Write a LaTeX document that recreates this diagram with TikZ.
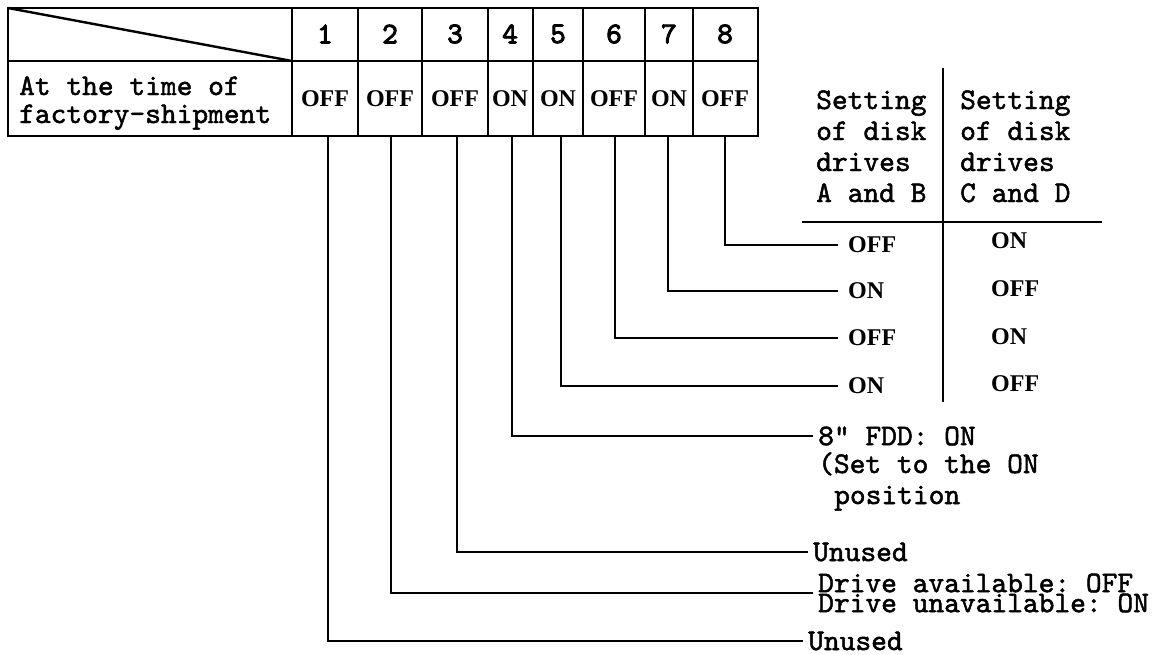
\documentclass[tikz,border=0pt]{standalone}
\usepackage{fontspec}
\setmainfont{Liberation Serif}
\setmonofont{lmmono10-regular.otf}[FakeBold=1.6]
\newfontfamily\digitfont{lmmono10-regular.otf}[FakeBold=3]
\usetikzlibrary{positioning}

\begin{document}
\begin{tikzpicture}[x=1pt, y=-1pt, line width=2.4pt,
    txt/.style={font=\ttfamily\fontsize{30}{31}\selectfont, inner sep=0pt, align=left},
    num/.style={font=\digitfont\fontsize{30}{31}\selectfont, inner sep=0pt},
    val/.style={font=\bfseries\fontsize{24}{28}\selectfont, inner sep=0pt},
    lead/.style={val, anchor=west, inner xsep=9pt},
    note/.style={txt, anchor=west, inner xsep=4pt}]
  \useasboundingbox (0,0) rectangle (1158,654);

  % switch table
  \draw (8,8) rectangle (758,136);
  \draw (8,61) -- (758,61);
  \draw (8,8) -- (292,61);
  \foreach \x in {292,358,422,488,533,583,645,693}
    \draw (\x,8) -- (\x,136);

  \node[txt, font=\ttfamily\fontsize{30}{28}\selectfont, anchor=base west] (ship) at (18,123) {At the time of\\factory-shipment};

  \node[num] (n1) at (325,34) {1};
  \node[num] (n2) at (390,34) {2};
  \node[num] (n3) at (455,34) {3};
  \node[num] (n4) at (510,34) {4};
  \node[num] (n5) at (558,34) {5};
  \node[num] (n6) at (614,34) {6};
  \node[num] (n7) at (669,34) {7};
  \node[num] (n8) at (725,34) {8};

  \node[val] (f1) at (325,99) {OFF};
  \node[val] (f2) at (390,99) {OFF};
  \node[val] (f3) at (455,99) {OFF};
  \node[val] (f4) at (510,99) {ON};
  \node[val] (f5) at (558,99) {ON};
  \node[val] (f6) at (614,99) {OFF};
  \node[val] (f7) at (669,99) {ON};
  \node[val] (f8) at (725,99) {OFF};

  % switch outlets
  \coordinate (s1) at (328,136);
  \coordinate (s2) at (391,136);
  \coordinate (s3) at (457,136);
  \coordinate (s4) at (512,136);
  \coordinate (s5) at (561,136);
  \coordinate (s6) at (615,136);
  \coordinate (s7) at (668,136);
  \coordinate (s8) at (725,136);

  % drive setting table
  \draw (943,68) -- (943,402);
  \draw (802,222) -- (1102,222);
  \node[txt, anchor=base west] (hab) at (815,202) {Setting\\of disk\\drives\\A and B};
  \node[txt, anchor=base west] (hcd) at (959,202) {Setting\\of disk\\drives\\C and D};

  \node[lead] (v8) at (838,245) {OFF};
  \node[lead] (v7) at (838,291) {ON};
  \node[lead] (v6) at (838,338) {OFF};
  \node[lead] (v5) at (838,386) {ON};

  \node[val, anchor=west] (w8) at (990,241) {ON};
  \node[val, anchor=west] (w7) at (990,289) {OFF};
  \node[val, anchor=west] (w6) at (990,337) {ON};
  \node[val, anchor=west] (w5) at (990,384) {OFF};

  % lower notes
  \node[note] (l4) at (813,436) {8" FDD: ON};
  \node[txt, anchor=base west] (l4b) at (817,504) {(Set to the ON\\\hspace*{16pt}position};
  \node[note] (l3) at (808,552) {Unused};
  \node[note, font=\ttfamily\fontsize{30}{17}\selectfont] (l2) at (813,593) {Drive available: OFF\\Drive unavailable: ON};
  \node[note] (l1) at (803,641) {Unused};

  \draw (s8) |- (v8.west);
  \draw (s7) |- (v7.west);
  \draw (s6) |- (v6.west);
  \draw (s5) |- (v5.west);
  \draw (s4) |- (l4.west);
  \draw (s3) |- (l3.west);
  \draw (s2) |- (l2.west);
  \draw (s1) |- (l1.west);
\end{tikzpicture}
\end{document}
